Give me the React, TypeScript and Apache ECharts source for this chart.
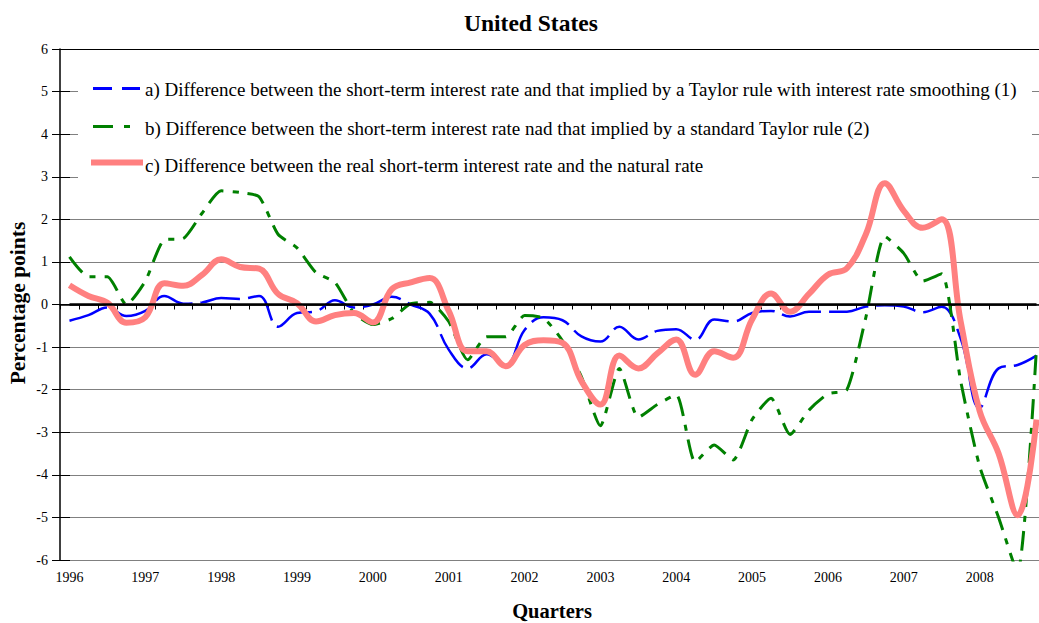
import React, { useEffect, useRef } from 'react';
import * as echarts from 'echarts';

const years = ['1996', '1997', '1998', '1999', '2000', '2001', '2002', '2003', '2004', '2005', '2006', '2007', '2008'];
const quarterNames = ['Q1', 'Q2', 'Q3', 'Q4'];
const categories = years.flatMap((y) => quarterNames.map((q) => `${y} ${q}`));

const yTicks = { min: -6, max: 6, interval: 1 };

const seriesNames = [
  'a) Difference between the short-term interest rate and that implied by a Taylor rule with interest rate smoothing (1)',
  'b) Difference between the short-term interest rate nad that implied by a standard Taylor rule (2)',
  'c) Difference between the real short-term interest rate and the natural rate',
];

const smoothingRuleGap = [
  -0.38, -0.25, -0.07, -0.27, -0.15, 0.2, 0.02, 0.05, 0.15, 0.13, 0.2, -0.52,
  -0.2, -0.16, 0.1, -0.07, 0.0, 0.18, 0.0, -0.22, -1.06, -1.5, -1.17, -1.43,
  -0.6, -0.3, -0.37, -0.75, -0.87, -0.52, -0.82, -0.62, -0.58, -0.83, -0.35, -0.4,
  -0.2, -0.15, -0.28, -0.17, -0.17, -0.17, -0.05, -0.02, -0.05, -0.18, -0.05, -0.8,
  -2.43, -1.5, -1.42, -1.2,
];

const standardRuleGap = [
  1.12, 0.65, 0.65, 0.0, 0.55, 1.52, 1.55, 2.15, 2.67, 2.63, 2.53, 1.65,
  1.33, 0.75, 0.52, -0.2, -0.47, -0.33, 0.02, 0.05, -0.4, -1.3, -0.76, -0.76,
  -0.26, -0.32, -0.85, -1.7, -2.85, -1.5, -2.65, -2.35, -2.12, -3.7, -3.3, -3.65,
  -2.7, -2.2, -3.05, -2.48, -2.1, -2.0, -0.3, 1.6, 1.2, 0.55, 0.72, -1.8,
  -3.8, -5.0, -6.3, -1.0,
];

const naturalRateGap = [
  0.45, 0.2, 0.04, -0.43, -0.3, 0.5, 0.44, 0.7, 1.06, 0.88, 0.84, 0.25,
  0.03, -0.4, -0.25, -0.2, -0.42, 0.36, 0.52, 0.62, -0.15, -1.1, -1.1, -1.45,
  -0.95, -0.84, -0.9, -1.8, -2.35, -1.2, -1.5, -1.15, -0.82, -1.65, -1.1, -1.25,
  -0.35, 0.26, -0.17, 0.25, 0.7, 0.85, 1.65, 2.85, 2.2, 1.8, 2.0, -0.4,
  -2.5, -3.5, -4.95, -2.7,
];

const colors = ['#0000FF', '#008000', '#FF8080'];
const FONT = "'Liberation Serif', 'Times New Roman', serif";

export default function App() {
  const ref = useRef<HTMLDivElement>(null);

  useEffect(() => {
    if (!ref.current) return;
    const chart = echarts.init(ref.current, null, { renderer: 'svg' });

    const gridLineColors = Array.from({ length: 13 }, (_, i) => (i === 12 ? '#000000' : '#808080'));

    const legendRows = [89, 128, 165];

    const option: any = {
      animation: false,
      backgroundColor: '#ffffff',
      textStyle: { fontFamily: FONT },
      title: {
        text: 'United States',
        left: 459,
        top: 6,
        textStyle: { fontFamily: FONT, fontSize: 23.5, fontWeight: 'bold', color: '#000' },
      },
      grid: { left: 60, top: 49, width: 986, height: 511, containLabel: false },
      xAxis: {
        type: 'category',
        data: categories,
        boundaryGap: true,
        axisLine: { show: true, lineStyle: { color: '#000', width: 1.5 } },
        axisTick: { show: true, interval: 0, length: 5, inside: false, lineStyle: { color: '#000' } },
        axisLabel: {
          interval: 3,
          margin: 10,
          fontSize: 14,
          fontFamily: FONT,
          color: '#000',
          formatter: (v: string) => v.slice(0, 4),
        },
        splitLine: { show: false },
      },
      yAxis: [
        {
          type: 'value',
          min: yTicks.min,
          max: yTicks.max,
          interval: yTicks.interval,
          axisLine: { show: true, lineStyle: { color: '#000', width: 1.5 } },
          axisTick: { show: true, length: 8, inside: false, lineStyle: { color: '#000' } },
          axisLabel: { margin: 12, fontSize: 14, fontFamily: FONT, color: '#000' },
          splitLine: { show: true, lineStyle: { color: gridLineColors, width: 1 } },
        },
        {
          type: 'value',
          position: 'left',
          offset: 0,
          min: yTicks.min,
          max: yTicks.max,
          interval: yTicks.interval,
          axisLine: { show: false },
          axisTick: { show: true, length: 10, inside: true, lineStyle: { color: '#000' } },
          axisLabel: { show: false },
          splitLine: { show: false },
        },
      ],
      graphic: [
        {
          type: 'rect',
          z: 1,
          shape: { x: 78, y: 60, width: 954, height: 118 },
          style: { fill: '#ffffff' },
          silent: true,
        },
        {
          type: 'line',
          z: 5,
          shape: { x1: 93, y1: 88.5, x2: 140, y2: 88.5 },
          style: { stroke: colors[0], lineWidth: 3, lineDash: [19, 10] },
        },
        {
          type: 'line',
          z: 5,
          shape: { x1: 93, y1: 126.5, x2: 131, y2: 126.5 },
          style: { stroke: colors[1], lineWidth: 3, lineDash: [20, 11, 6, 11] },
        },
        {
          type: 'line',
          z: 5,
          shape: { x1: 91, y1: 162.5, x2: 143, y2: 162.5 },
          style: { stroke: colors[2], lineWidth: 6 },
        },
        ...seriesNames.map((name, i) => ({
          type: 'text',
          z: 5,
          x: 145,
          y: legendRows[i],
          style: {
            text: name,
            fontFamily: FONT,
            fontSize: 19,
            fill: '#000',
            textVerticalAlign: 'middle',
            textAlign: 'left',
          },
        })),
        {
          type: 'text',
          z: 5,
          x: 18,
          y: 303,
          rotation: Math.PI / 2,
          style: {
            text: 'Percentage points',
            fontFamily: FONT,
            fontSize: 21.5,
            fontWeight: 'bold',
            fill: '#000',
            textAlign: 'center',
            textVerticalAlign: 'middle',
          },
        },
        {
          type: 'text',
          z: 5,
          x: 552,
          y: 611,
          style: {
            text: 'Quarters',
            fontFamily: FONT,
            fontSize: 20.5,
            fontWeight: 'bold',
            fill: '#000',
            textAlign: 'center',
            textVerticalAlign: 'middle',
          },
        },
      ],
      series: [
        {
          name: seriesNames[0],
          type: 'line',
          data: smoothingRuleGap,
          smooth: 0.4,
          showSymbol: false,
          symbol: 'none',
          z: 3,
          lineStyle: { color: colors[0], width: 2.5, type: [40, 8] },
          markLine: {
            silent: true,
            symbol: 'none',
            label: { show: false },
            lineStyle: { color: '#000', width: 2.5, type: 'solid' },
            data: [[{ coord: [categories[0], 0] }, { coord: [categories[categories.length - 1], 0] }]],
          },
        },
        {
          name: seriesNames[1],
          type: 'line',
          data: standardRuleGap,
          smooth: 0.2,
          showSymbol: false,
          symbol: 'none',
          z: 3,
          lineStyle: { color: colors[1], width: 3, type: [20, 9, 6, 9] },
        },
        {
          name: seriesNames[2],
          type: 'line',
          data: naturalRateGap,
          smooth: 0.4,
          showSymbol: false,
          symbol: 'none',
          z: 4,
          lineStyle: { color: colors[2], width: 6 },
        },
      ],
    };

    chart.setOption(option);
    return () => chart.dispose();
  }, []);

  return (
    <div
      style={{ position: 'fixed', left: 0, top: 0, width: 1039, height: 623, overflow: 'hidden', background: '#fff' }}
    >
      <div ref={ref} style={{ width: 1052, height: 623 }} />
    </div>
  );
}
